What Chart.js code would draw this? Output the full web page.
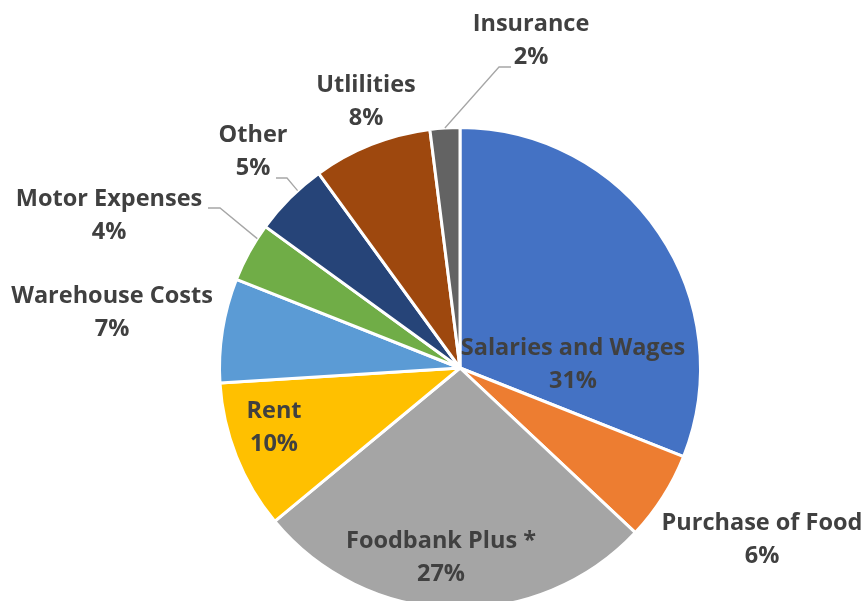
<!DOCTYPE html>
<html>
<head>
<meta charset="utf-8">
<script src="https://cdn.jsdelivr.net/npm/chart.js@4.4.1/dist/chart.umd.min.js"></script>
<style>
  html, body { margin: 0; padding: 0; background: #fff; overflow: hidden; }
  #wrap { width: 863px; height: 640px; }
</style>
</head>
<body>
<div id="wrap"><canvas id="pie" width="863" height="640"></canvas></div>
<script>
// ── Données ──
const categories = ['Salaries and Wages', 'Purchase of Food', 'Foodbank Plus *', 'Rent',
    'Warehouse Costs', 'Motor Expenses', 'Other', 'Utlilities', 'Insurance'];
const shares = [31, 6, 27, 10, 7, 4, 5, 8, 2];
const sliceColors = ['#4472C4', '#ED7D31', '#A5A5A5', '#FFC000', '#5B9BD5',
    '#70AD47', '#264478', '#9E480E', '#636363'];

// ── Placement des étiquettes (décalage par rapport au centre) ──
const labelSpots = [
    [113, -3], [302, 172], [-19, 190], [-186, 60], [-348, -55],
    [-351, -152], [-207, -216], [-94, -266], [71, -327]
];
// lignes de rappel : points relatifs au centre, puis fin sur l'arc (t = position dans la part)
const leaders = {
    1: { pts: [[160, 171], [164, 167]] },
    5: { pts: [[-252, -160], [-240, -160]], t: 0.76 },
    6: { pts: [[-184, -190], [-173, -190]], t: 0.64 },
    8: { pts: [[51, -301], [39, -301]], t: 0.5 }
};

const labelPlugin = {
    id: 'excelLabels',
    afterDatasetsDraw(chart) {
        const ctx = chart.ctx;
        const arcs = chart.getDatasetMeta(0).data;
        const cx = arcs[0].x, cy = arcs[0].y;

        ctx.save();
        // lignes
        ctx.strokeStyle = '#A6A6A6';
        ctx.lineWidth = 1.3;
        Object.keys(leaders).forEach(k => {
            const L = leaders[k];
            const a = arcs[k];
            ctx.beginPath();
            L.pts.forEach((p, i) => {
                if (i === 0) ctx.moveTo(cx + p[0], cy + p[1]);
                else ctx.lineTo(cx + p[0], cy + p[1]);
            });
            if (L.t !== undefined) {
                const ang = a.startAngle + (a.endAngle - a.startAngle) * L.t;
                ctx.lineTo(cx + Math.cos(ang) * a.outerRadius, cy + Math.sin(ang) * a.outerRadius);
            }
            ctx.stroke();
        });

        // textes
        ctx.fillStyle = '#404040';
        ctx.font = 'bold 23.5px "Open Sans"';
        ctx.textAlign = 'center';
        ctx.textBaseline = 'middle';
        categories.forEach((name, i) => {
            const x = cx + labelSpots[i][0];
            const y = cy + labelSpots[i][1];
            ctx.fillText(name, x, y - 16.5);
            ctx.fillText(shares[i] + '%', x, y + 16.5);
        });
        ctx.restore();
    }
};

new Chart(document.getElementById('pie'), {
    type: 'pie',
    data: {
        labels: categories,
        datasets: [{
            data: shares,
            backgroundColor: sliceColors,
            borderColor: '#FFFFFF',
            borderWidth: 3
        }]
    },
    options: {
        responsive: false,
        animation: false,
        layout: { padding: { top: 126, bottom: 30, left: 218, right: 161 } },
        plugins: {
            legend: { display: false },
            tooltip: { enabled: false }
        }
    },
    plugins: [labelPlugin]
});
</script>
</body>
</html>
